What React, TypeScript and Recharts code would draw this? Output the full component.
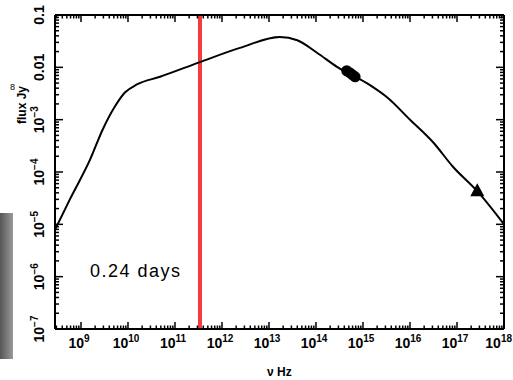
import React from 'react';
import { ComposedChart, Line, Scatter, XAxis, YAxis, ReferenceLine } from 'recharts';

// SED curve (Hz, Jy)
const curveNu = [2.8e8, 5.8e8, 1.55e9, 2.9e9, 5.3e9, 8.6e9, 1.55e10, 4.8e10, 3.4e11, 2.4e12, 1.7e13, 4.0e13, 1.05e14, 2.8e14, 1.2e15, 3.2e15, 1.0e16, 3.1e16, 8.2e16, 2.7e17, 1.0e18];
const curveFlux = [7.9e-6, 3.0e-5, 1.7e-4, 6.5e-4, 1.8e-3, 3.3e-3, 4.7e-3, 6.6e-3, 1.26e-2, 2.35e-2, 3.8e-2, 3.3e-2, 1.9e-2, 1.02e-2, 5.0e-3, 2.7e-3, 1.0e-3, 3.7e-4, 1.26e-4, 4.3e-5, 1.0e-5];

// optical points (filled circles) and X-ray point (triangle)
const opticalNu = [4.5e14, 5.2e14, 6.0e14, 6.8e14];
const opticalFlux = [8.6e-3, 7.9e-3, 7.2e-3, 6.6e-3];
const xrayNu = [2.7e17];
const xrayFlux = [4.3e-5];

const markerNu = 3.4e11;
const epochLabel = '0.24 days';

const xExponents = [9, 10, 11, 12, 13, 14, 15, 16, 17, 18];
const yTickValues = [0.1, 0.01, 1e-3, 1e-4, 1e-5, 1e-6, 1e-7];
const yTickBase = ['0.1', '0.01', '10', '10', '10', '10', '10'];
const yTickSup = ['', '', '−3', '−4', '−5', '−6', '−7'];

const W = 513;
const H = 380;
const LEFT = 55;
const RIGHT = 504;
const TOP = 15;
const BOTTOM = 329;

const curve = curveNu.map((nu, i) => ({ nu, flux: curveFlux[i] }));
const optical = opticalNu.map((nu, i) => ({ nu, flux: opticalFlux[i] }));
const xray = xrayNu.map((nu, i) => ({ nu, flux: xrayFlux[i] }));

// log ticks: majors + minors 2..9
const xTicks: number[] = [];
for (let e = 8; e <= 17; e++) {
  for (let m = 1; m <= 9; m++) {
    const v = m * Math.pow(10, e);
    if (v >= 2.8e8 && v <= 1e18) xTicks.push(v);
  }
}
xTicks.push(1e18);
const yTicks: number[] = [];
for (let e = -7; e <= -2; e++) {
  for (let m = 1; m <= 9; m++) yTicks.push(m * Math.pow(10, e));
}
yTicks.push(0.1);

const isMajor = (v: number) => {
  const l = Math.log10(v);
  return Math.abs(l - Math.round(l)) < 1e-6;
};

const font = '"Liberation Sans", Arial, sans-serif';

const BottomTick = (props: any) => {
  const { x, payload } = props;
  const major = isMajor(payload.value);
  const exp = Math.round(Math.log10(payload.value));
  // last label would run off the edge, pin it to the right side
  const last = exp === 18;
  return (
    <g>
      <line x1={x} x2={x} y1={BOTTOM} y2={BOTTOM - (major ? 7 : 3.5)} stroke="#000" strokeWidth={1.5} />
      {major && xExponents.includes(exp) && (
        <text x={last ? W - 1 : x - 2} y={BOTTOM + 19} textAnchor={last ? 'end' : 'middle'} fontFamily={font} fontWeight="bold" fontSize={14} fill="#000">
          10<tspan dy={-6} fontSize={10}>{exp}</tspan>
        </text>
      )}
    </g>
  );
};

const TopTick = (props: any) => {
  const { x, payload } = props;
  const major = isMajor(payload.value);
  return <line x1={x} x2={x} y1={TOP} y2={TOP + (major ? 7 : 3.5)} stroke="#000" strokeWidth={1.5} />;
};

const LeftTick = (props: any) => {
  const { y, payload } = props;
  const major = isMajor(payload.value);
  const idx = yTickValues.findIndex((v) => Math.abs(Math.log10(v) - Math.log10(payload.value)) < 1e-6);
  const lx = 44;
  return (
    <g>
      <line x1={LEFT} x2={LEFT + (major ? 8 : 4)} y1={y} y2={y} stroke="#000" strokeWidth={1.5} />
      {idx >= 0 && (
        <text x={lx} y={y} transform={`rotate(-90, ${lx}, ${y})`} textAnchor="middle" fontFamily={font} fontWeight="bold" fontSize={14} fill="#000">
          {yTickBase[idx]}
          {yTickSup[idx] && <tspan dy={-6} fontSize={10}>{yTickSup[idx]}</tspan>}
        </text>
      )}
    </g>
  );
};

const RightTick = (props: any) => {
  const { y, payload } = props;
  const major = isMajor(payload.value);
  return <line x1={RIGHT} x2={RIGHT - (major ? 8 : 4)} y1={y} y2={y} stroke="#000" strokeWidth={1.5} />;
};

const Dot = (props: any) => <circle cx={props.cx} cy={props.cy} r={5.5} fill="#000" />;
const Tri = (props: any) => {
  const { cx, cy } = props;
  return <polygon points={`${cx},${cy - 8} ${cx - 7},${cy + 5} ${cx + 7},${cy + 5}`} fill="#000" />;
};

const axisLine = { stroke: '#000', strokeWidth: 2 };

export default function App() {
  return (
    <div style={{ position: 'absolute', left: 0, top: 0, width: W, height: H, background: '#fff', overflow: 'hidden' }}>
      <div style={{ position: 'absolute', left: 0, top: 213, width: 13, height: 146, background: 'linear-gradient(to right, #555, #9a9a9a)' }} />
      <ComposedChart width={W} height={H} margin={{ top: TOP - 1, right: W - RIGHT - 1, bottom: H - BOTTOM - 1, left: LEFT - 1 }}>
        <XAxis xAxisId="b" type="number" dataKey="nu" scale="log" domain={[2.8e8, 1e18]} allowDataOverflow ticks={xTicks} interval={0} height={1} tickSize={0} tickMargin={0} tickLine={false} tick={<BottomTick />} axisLine={axisLine} />
        <XAxis xAxisId="t" orientation="top" type="number" dataKey="nu" scale="log" domain={[2.8e8, 1e18]} allowDataOverflow ticks={xTicks} interval={0} height={1} tickSize={0} tickMargin={0} tickLine={false} tick={<TopTick />} axisLine={axisLine} />
        <YAxis yAxisId="l" type="number" dataKey="flux" scale="log" domain={[1e-7, 0.1]} allowDataOverflow ticks={yTicks} interval={0} width={1} tickSize={0} tickMargin={0} tickLine={false} tick={<LeftTick />} axisLine={axisLine} />
        <YAxis yAxisId="r" orientation="right" type="number" dataKey="flux" scale="log" domain={[1e-7, 0.1]} allowDataOverflow ticks={yTicks} interval={0} width={1} tickSize={0} tickMargin={0} tickLine={false} tick={<RightTick />} axisLine={axisLine} />
        <ReferenceLine xAxisId="b" yAxisId="l" x={markerNu} stroke="#f43a3a" strokeWidth={4} />
        <Line xAxisId="b" yAxisId="l" data={curve} dataKey="flux" type="monotone" stroke="#000" strokeWidth={2} dot={false} isAnimationActive={false} />
        <Line xAxisId="t" yAxisId="r" data={curve} dataKey="flux" stroke="none" dot={false} isAnimationActive={false} />
        <Scatter xAxisId="b" yAxisId="l" data={optical} dataKey="flux" shape={<Dot />} isAnimationActive={false} />
        <Scatter xAxisId="b" yAxisId="l" data={xray} dataKey="flux" shape={<Tri />} isAnimationActive={false} />
      </ComposedChart>
      <div style={{ position: 'absolute', left: 90, top: 261, fontFamily: font, fontSize: 18, letterSpacing: 1.5, color: '#000' }}>{epochLabel}</div>
      <div style={{ position: 'absolute', left: 267, top: 365, fontFamily: font, fontWeight: 'bold', fontSize: 12, color: '#000' }}>ν Hz</div>
      <div style={{ position: 'absolute', left: 22, top: 105, transform: 'translate(-50%, -50%) rotate(-90deg)', fontFamily: font, fontWeight: 'bold', fontSize: 12, whiteSpace: 'nowrap', color: '#000' }}>flux Jy</div>
      <div style={{ position: 'absolute', left: 10, top: 82, fontFamily: font, fontSize: 9, color: '#000' }}>8</div>
    </div>
  );
}
